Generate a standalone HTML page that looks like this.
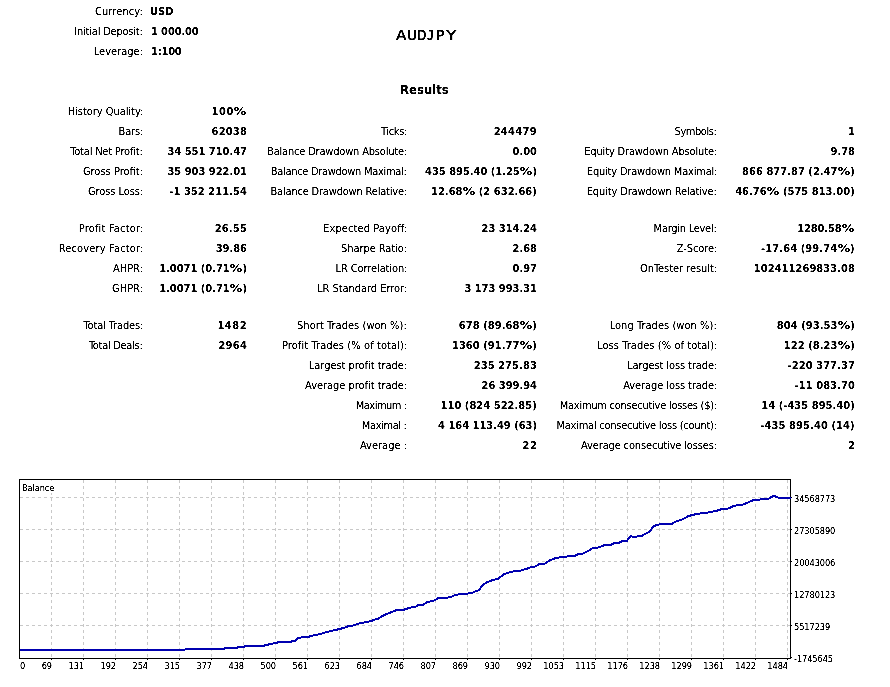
<!DOCTYPE html>
<html lang="en">
<head>
<meta charset="utf-8">
<title>Strategy Tester Report</title>
<style>
html,body{margin:0;padding:0;background:#fff}
body{width:890px;height:687px;position:relative;overflow:hidden;font-family:"DejaVu Sans Condensed","Liberation Sans",sans-serif;color:#000}
.l,.v,.c,.h{position:absolute;white-space:pre;line-height:20px;height:20px;filter:url(#thr)}
.l{font-size:11px}
.v{font-size:11px;font-weight:bold;filter:url(#thb)}
.p{display:inline-block;transform:scaleX(1.28);margin:0 1.4px}
.c{font-size:9.2px;letter-spacing:-0.1px;line-height:12px;height:12px}
.sym{font-family:"DejaVu Sans","Liberation Sans",sans-serif;font-size:13.7px;left:0;top:25px;width:890px;-webkit-text-stroke:0.3px #000}
.sym span{position:absolute;top:0;transform-origin:0 50%}
.sym .j{font-family:"DejaVu Sans Mono","Liberation Mono",monospace}
.res{font-size:13px;font-weight:bold;left:400px;top:80px;filter:url(#thb)}
.chart{position:absolute;left:0;top:470px}
</style>
</head>
<body>
<svg width="0" height="0" style="position:absolute"><defs><filter id="thr" color-interpolation-filters="sRGB"><feComponentTransfer><feFuncA type="linear" slope="3" intercept="-0.8"/></feComponentTransfer></filter><filter id="thb" color-interpolation-filters="sRGB"><feComponentTransfer><feFuncA type="linear" slope="3" intercept="-0.9"/></feComponentTransfer></filter></defs></svg>
<div class="h sym"><span style="left:396px;transform:scaleX(1.111)">A</span><span style="left:407px">U</span><span style="left:417.11px;transform:scaleX(0.889)">D</span><span class="j" style="left:427px;transform:scaleX(0.857)">J</span><span style="left:436px">P</span><span style="left:446px;transform:scaleX(1.25)">Y</span></div>
<div class="h res">Results</div>
<div class="l" style="left:94.91px;top:2px;letter-spacing:0.10px">Currency:</div>
<div class="v" style="left:150.00px;top:2px">USD</div>
<div class="l" style="left:74.30px;top:22px;letter-spacing:-0.21px">Initial Deposit:</div>
<div class="v" style="left:151.00px;top:22px;letter-spacing:-0.11px">1 000.00</div>
<div class="l" style="left:93.80px;top:42px">Leverage:</div>
<div class="v" style="left:151.00px;top:42px;letter-spacing:-0.20px">1:100</div>
<div class="l" style="left:67.75px;top:102px;letter-spacing:-0.05px">History Quality:</div>
<div class="v" style="left:211.61px;top:102px;letter-spacing:0.54px">100<span class="p">%</span></div>
<div class="l" style="left:118.58px;top:122px;letter-spacing:-0.20px">Bars:</div>
<div class="v" style="left:211.55px;top:122px;letter-spacing:0.20px">62038</div>
<div class="l" style="left:380.88px;top:122px;letter-spacing:-0.32px">Ticks:</div>
<div class="v" style="left:493.66px;top:122px;letter-spacing:0.32px">244479</div>
<div class="l" style="left:674.61px;top:122px;letter-spacing:-0.45px">Symbols:</div>
<div class="v" style="left:848.11px;top:122px">1</div>
<div class="l" style="left:70.30px;top:142px;letter-spacing:-0.20px">Total Net Profit:</div>
<div class="v" style="left:167.47px;top:142px">34 551 710.47</div>
<div class="l" style="left:267.08px;top:142px;letter-spacing:-0.19px">Balance Drawdown Absolute:</div>
<div class="v" style="left:512.58px;top:142px">0.00</div>
<div class="l" style="left:584.27px;top:142px;letter-spacing:-0.16px">Equity Drawdown Absolute:</div>
<div class="v" style="left:830.58px;top:142px">9.78</div>
<div class="l" style="left:82.88px;top:162px">Gross Profit:</div>
<div class="v" style="left:167.47px;top:162px">35 903 922.01</div>
<div class="l" style="left:270.69px;top:162px;letter-spacing:-0.30px">Balance Drawdown Maximal:</div>
<div class="v" style="left:425.08px;top:162px">435 895.40 (1.25<span class="p">%</span>)</div>
<div class="l" style="left:586.86px;top:162px;letter-spacing:-0.20px">Equity Drawdown Maximal:</div>
<div class="v" style="left:742.08px;top:162px;letter-spacing:0.05px">866 877.87 (2.47<span class="p">%</span>)</div>
<div class="l" style="left:87.97px;top:182px;letter-spacing:-0.08px">Gross Loss:</div>
<div class="v" style="left:169.27px;top:182px;letter-spacing:0.07px">-1 352 211.54</div>
<div class="l" style="left:270.47px;top:182px;letter-spacing:-0.19px">Balance Drawdown Relative:</div>
<div class="v" style="left:430.97px;top:182px;letter-spacing:0.05px">12.68<span class="p">%</span> (2 632.66)</div>
<div class="l" style="left:586.66px;top:182px;letter-spacing:-0.13px">Equity Drawdown Relative:</div>
<div class="v" style="left:735.19px;top:182px;letter-spacing:0.04px">46.76<span class="p">%</span> (575 813.00)</div>
<div class="l" style="left:78.75px;top:219px;letter-spacing:0.18px">Profit Factor:</div>
<div class="v" style="left:214.69px;top:219px;letter-spacing:0.20px">26.55</div>
<div class="l" style="left:323.08px;top:219px;letter-spacing:0.10px">Expected Payoff:</div>
<div class="v" style="left:481.58px;top:219px">23 314.24</div>
<div class="l" style="left:653.61px;top:219px;letter-spacing:-0.27px">Margin Level:</div>
<div class="v" style="left:797.22px;top:219px;letter-spacing:-0.11px">1280.58<span class="p">%</span></div>
<div class="l" style="left:58.69px;top:239px;letter-spacing:0.16px">Recovery Factor:</div>
<div class="v" style="left:215.69px;top:239px">39.86</div>
<div class="l" style="left:341.08px;top:239px;letter-spacing:-0.07px">Sharpe Ratio:</div>
<div class="v" style="left:512.58px;top:239px">2.68</div>
<div class="l" style="left:676.80px;top:239px;letter-spacing:-0.11px">Z-Score:</div>
<div class="v" style="left:761.08px;top:239px;letter-spacing:0.11px">-17.64 (99.74<span class="p">%</span>)</div>
<div class="l" style="left:112.94px;top:259px">AHPR:</div>
<div class="v" style="left:159.19px;top:259px">1.0071 (0.71<span class="p">%</span>)</div>
<div class="l" style="left:335.61px;top:259px;letter-spacing:-0.11px">LR Correlation:</div>
<div class="v" style="left:512.58px;top:259px">0.97</div>
<div class="l" style="left:640.02px;top:259px;letter-spacing:-0.06px">OnTester result:</div>
<div class="v" style="left:753.83px;top:259px;letter-spacing:0.06px">102411269833.08</div>
<div class="l" style="left:112.02px;top:279px">GHPR:</div>
<div class="v" style="left:159.19px;top:279px">1.0071 (0.71<span class="p">%</span>)</div>
<div class="l" style="left:317.11px;top:279px;letter-spacing:-0.05px">LR Standard Error:</div>
<div class="v" style="left:464.38px;top:279px">3 173 993.31</div>
<div class="l" style="left:83.52px;top:316px;letter-spacing:-0.13px">Total Trades:</div>
<div class="v" style="left:217.44px;top:316px;letter-spacing:0.53px">1482</div>
<div class="l" style="left:297.05px;top:316px;letter-spacing:0.04px">Short Trades (won %):</div>
<div class="v" style="left:458.83px;top:316px;letter-spacing:0.07px">678 (89.68<span class="p">%</span>)</div>
<div class="l" style="left:609.66px;top:316px;letter-spacing:0.04px">Long Trades (won %):</div>
<div class="v" style="left:776.83px;top:316px;letter-spacing:0.07px">804 (93.53<span class="p">%</span>)</div>
<div class="l" style="left:88.91px;top:336px;letter-spacing:-0.29px">Total Deals:</div>
<div class="v" style="left:218.44px;top:336px;letter-spacing:0.27px">2964</div>
<div class="l" style="left:281.94px;top:336px;letter-spacing:0.09px">Profit Trades (% of total):</div>
<div class="v" style="left:451.94px;top:336px;letter-spacing:0.07px">1360 (91.77<span class="p">%</span>)</div>
<div class="l" style="left:597.02px;top:336px;letter-spacing:0.06px">Loss Trades (% of total):</div>
<div class="v" style="left:783.72px;top:336px;letter-spacing:0.08px">122 (8.23<span class="p">%</span>)</div>
<div class="l" style="left:308.86px;top:356px;letter-spacing:-0.04px">Largest profit trade:</div>
<div class="v" style="left:473.69px;top:356px;letter-spacing:0.09px">235 275.83</div>
<div class="l" style="left:627.02px;top:356px;letter-spacing:-0.09px">Largest loss trade:</div>
<div class="v" style="left:787.58px;top:356px;letter-spacing:0.08px">-220 377.37</div>
<div class="l" style="left:305.11px;top:376px;letter-spacing:-0.04px">Average profit trade:</div>
<div class="v" style="left:481.58px;top:376px">26 399.94</div>
<div class="l" style="left:623.30px;top:376px;letter-spacing:-0.09px">Average loss trade:</div>
<div class="v" style="left:794.47px;top:376px;letter-spacing:0.09px">-11 083.70</div>
<div class="l" style="left:355.75px;top:396px;letter-spacing:-0.50px">Maximum :</div>
<div class="v" style="left:440.55px;top:396px;letter-spacing:0.05px">110 (824 522.85)</div>
<div class="l" style="left:559.77px;top:396px;letter-spacing:-0.26px">Maximum consecutive losses ($):</div>
<div class="v" style="left:761.33px;top:396px;letter-spacing:0.05px">14 (-435 895.40)</div>
<div class="l" style="left:361.83px;top:416px;letter-spacing:-0.40px">Maximal :</div>
<div class="v" style="left:438.11px;top:416px">4 164 113.49 (63)</div>
<div class="l" style="left:556.50px;top:416px;letter-spacing:-0.25px">Maximal consecutive loss (count):</div>
<div class="v" style="left:760.33px;top:416px;letter-spacing:0.11px">-435 895.40 (14)</div>
<div class="l" style="left:359.94px;top:436px">Average :</div>
<div class="v" style="left:522.61px;top:436px;letter-spacing:0.60px">22</div>
<div class="l" style="left:581.11px;top:436px;letter-spacing:-0.15px">Average consecutive losses:</div>
<div class="v" style="left:848.11px;top:436px">2</div>
<svg class="chart" width="890" height="217" viewBox="0 470 890 217" shape-rendering="crispEdges">
<path d="M51.5 480V658M83.5 480V658M115.5 480V658M147.5 480V658M179.5 480V658M211.5 480V658M243.5 480V658M275.5 480V658M307.5 480V658M339.5 480V658M371.5 480V658M403.5 480V658M435.5 480V658M467.5 480V658M499.5 480V658M531.5 480V658M563.5 480V658M595.5 480V658M627.5 480V658M659.5 480V658M691.5 480V658M723.5 480V658M755.5 480V658M787.5 480V658M20 497.5H790M20 529.5H790M20 561.5H790M20 593.5H790M20 625.5H790" stroke="#c8c8c8" stroke-width="1" stroke-dasharray="3 3" fill="none"/>
<rect x="20" y="481" width="36" height="12" fill="#fff"/>
<rect x="19.5" y="479.5" width="771" height="179" fill="none" stroke="#000" stroke-width="1"/>
<path d="M791 497.5h1M791 529.5h1M791 561.5h1M791 593.5h1M791 625.5h1M791 657.5h1M51.5 659v1M83.5 659v1M115.5 659v1M147.5 659v1M179.5 659v1M211.5 659v1M243.5 659v1M275.5 659v1M307.5 659v1M339.5 659v1M371.5 659v1M403.5 659v1M435.5 659v1M467.5 659v1M499.5 659v1M531.5 659v1M563.5 659v1M595.5 659v1M627.5 659v1M659.5 659v1M691.5 659v1M723.5 659v1M755.5 659v1M787.5 659v1" stroke="#000" stroke-width="1" fill="none"/>
<polyline points="19.5,650 184.5,650 185.5,649 224,649 225.5,648 236.5,648 238,647 243.5,647 245,646 263.5,646 265,645 268,645 269,644 272.5,644 273.5,643 277,643 278,642 291,642 292,641 295.5,641 297,639 298.5,637.5 301,637.5 302,636.7 309,636.7 310,636 314,635.4 320.6,634 326.4,632.1 333,630.6 338.8,629.2 344.7,627.7 349,625.9 353.4,625.5 357.1,624 361.5,623 366.6,621.9 370.2,621.4 374.6,619.7 378.3,618.6 382.6,616 387,613.8 392.1,611.9 397.2,609.7 403.8,609.7 408.2,608.3 412.6,607.2 416.2,606.5 417.9,604.7 423,604.7 427.4,602.1 434,600.6 438.4,598 446.4,598 451.5,596.7 455.2,595.1 458.8,594.3 466.1,593.8 472,592.9 475.6,591.1 479.3,590.1 481.5,586.5 485.8,582.8 492.4,580.2 498.3,578.7 503.4,574.6 509.9,572.1 515.8,571 520.2,570.7 526.7,568.8 531.1,567 534.8,566.7 539.4,564 544.5,563.8 548.9,560.8 556.2,557.8 562,557.2 568.6,556.3 575.2,555.7 578.8,553.8 583.2,553.5 588.3,550.9 592.7,548 597.8,547.7 604.4,545.1 611,544.8 614.6,542.9 619,542.9 622.6,541 627,540.7 630.7,536 632.9,537 635.8,537 638.7,536 641.6,536 646.7,533.1 649.7,531.6 652.6,527.2 656.2,525 660.6,524.2 671.5,524.1 675.4,521.7 683.3,519 688.8,515.9 696.7,514 708.5,512.4 717.9,510.4 722.6,508.8 728.1,508.5 734.4,505.7 743.1,504.6 747.8,502.5 754.1,499.9 759.6,499.7 762,498.9 768.3,498.9 773.8,495.8 776.9,497 779.3,498 790.5,498" fill="none" stroke="#0000b0" stroke-width="2" stroke-linejoin="round" shape-rendering="crispEdges"/>
</svg>
<div class="c cl" style="left:22px;top:482px">Balance</div>
<div class="c cl" style="left:20px;top:660px">0</div>
<div class="c" style="right:838px;top:660px">69</div>
<div class="c" style="right:806px;top:660px">131</div>
<div class="c" style="right:774px;top:660px">192</div>
<div class="c" style="right:742px;top:660px">254</div>
<div class="c" style="right:710px;top:660px">315</div>
<div class="c" style="right:678px;top:660px">377</div>
<div class="c" style="right:646px;top:660px">438</div>
<div class="c" style="right:614px;top:660px">500</div>
<div class="c" style="right:582px;top:660px">561</div>
<div class="c" style="right:550px;top:660px">623</div>
<div class="c" style="right:518px;top:660px">684</div>
<div class="c" style="right:486px;top:660px">746</div>
<div class="c" style="right:454px;top:660px">807</div>
<div class="c" style="right:422px;top:660px">869</div>
<div class="c" style="right:390px;top:660px">930</div>
<div class="c" style="right:358px;top:660px">992</div>
<div class="c" style="right:326px;top:660px">1053</div>
<div class="c" style="right:294px;top:660px">1115</div>
<div class="c" style="right:262px;top:660px">1176</div>
<div class="c" style="right:230px;top:660px">1238</div>
<div class="c" style="right:198px;top:660px">1299</div>
<div class="c" style="right:166px;top:660px">1361</div>
<div class="c" style="right:134px;top:660px">1422</div>
<div class="c" style="right:102px;top:660px">1484</div>
<div class="c cl" style="left:794px;top:493px">34568773</div>
<div class="c cl" style="left:794px;top:525px">27305890</div>
<div class="c cl" style="left:794px;top:557px">20043006</div>
<div class="c cl" style="left:794px;top:589px">12780123</div>
<div class="c cl" style="left:794px;top:621px">5517239</div>
<div class="c cl" style="left:794px;top:653px">-1745645</div>
</body>
</html>
